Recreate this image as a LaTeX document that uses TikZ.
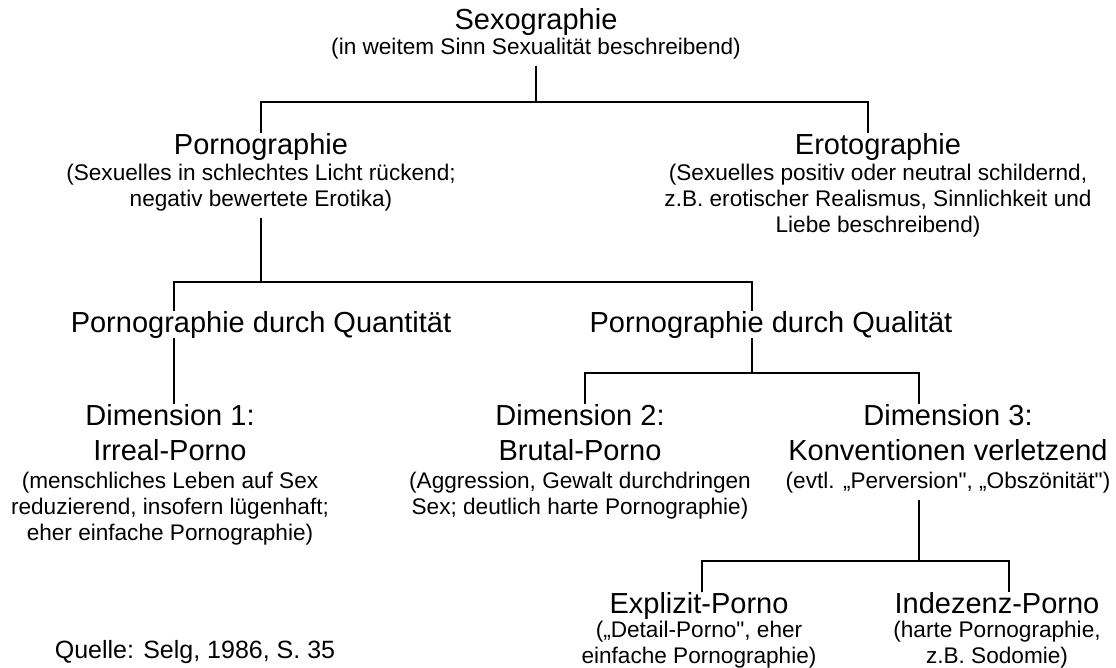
\documentclass[tikz,border=0pt]{standalone}
\usepackage{fontspec}
\setmainfont{Liberation Sans}[Ligatures=TeXOff]
\newcommand\ttlsize{\fontsize{29pt}{35pt}\selectfont}
\newcommand\subsize{\fontsize{22.6pt}{26pt}\selectfont}
\begin{document}
\begin{tikzpicture}[x=1pt,y=-1pt,
  ttl/.style={font=\ttlsize, align=center, inner sep=0pt, outer sep=0pt, anchor=north},
  sub/.style={font=\subsize, align=center, inner sep=0pt, outer sep=0pt, anchor=north},
  link/.style={draw=black, line width=1.3pt},
  fromsub/.style={shorten <=6pt}]
\useasboundingbox[fill=white] (0,0) rectangle (1116,668);

\node[ttl] (sexo) at (536,8) {Sexographie};
\node[sub] (sexos) at (536,38.5) {(in weitem Sinn Sexualität beschreibend)};
\node[ttl] (porno) at (261,133) {Pornographie};
\node[sub] (pornos) at (261,164.5) {(Sexuelles in schlechtes Licht rückend;\\negativ bewertete Erotika)};
\node[ttl] (eroto) at (878,133) {Erotographie};
\node[sub] (erotos) at (878,164.5) {(Sexuelles positiv oder neutral schildernd,\\z.B. erotischer Realismus, Sinnlichkeit und\\Liebe beschreibend)};
\node[ttl] (quant) at (261,311) {Pornographie durch Quantität};
\node[ttl] (qual) at (771,311) {Pornographie durch Qualität};
\node[ttl] (dimone) at (170,404) {Dimension 1:\\Irreal-Porno};
\node[sub] (dimones) at (170,472.5) {(menschliches Leben auf Sex\\reduzierend, insofern lügenhaft;\\eher einfache Pornographie)};
\node[ttl] (dimtwo) at (580,404) {Dimension 2:\\Brutal-Porno};
\node[sub] (dimtwos) at (580,472.5) {(Aggression, Gewalt durchdringen\\Sex; deutlich harte Pornographie)};
\node[ttl] (dimthree) at (948,404) {Dimension 3:\\Konventionen verletzend};
\node[sub] (dimthrees) at (948,472.5) {(evtl. „Perversion", „Obszönität")};
\node[ttl] (expl) at (699,592) {Explizit-Porno};
\node[sub] (expls) at (699,621.5) {(„Detail-Porno", eher\\einfache Pornographie)};
\node[ttl] (indez) at (997,592) {Indezenz-Porno};
\node[sub] (indezs) at (997,621.5) {(harte Pornographie,\\z.B. Sodomie)};
\node[font=\fontsize{25pt}{30pt}\selectfont, inner sep=0pt, anchor=base] (quelle) at (195,658) {Quelle: Selg, 1986, S. 35};

\coordinate (j1) at (536,102);
\draw[link,fromsub] (sexos.south) -- (j1);
\draw[link] (porno.north) |- (j1) -| ([xshift=-10pt]eroto.north);
\coordinate (j2) at (261,282);
\draw[link,fromsub] (pornos.south) -- (j2);
\draw[link] ([xshift=-87pt]quant.north) |- (j2) -| ([xshift=-19pt]qual.north);
\draw[link] ([xshift=-87pt]quant.south) -- ([xshift=4pt]dimone.north);
\coordinate (j3) at (752,373);
\draw[link] ([xshift=-19pt]qual.south) -- (j3);
\draw[link] ([xshift=5pt]dimtwo.north) |- (j3) -| ([xshift=-29pt]dimthree.north);
\coordinate (j4) at (919,561);
\draw[link,fromsub] ([xshift=-29pt]dimthrees.south) -- (j4);
\draw[link] ([xshift=3pt]expl.north) |- (j4) -| ([xshift=12pt]indez.north);
\end{tikzpicture}
\end{document}
